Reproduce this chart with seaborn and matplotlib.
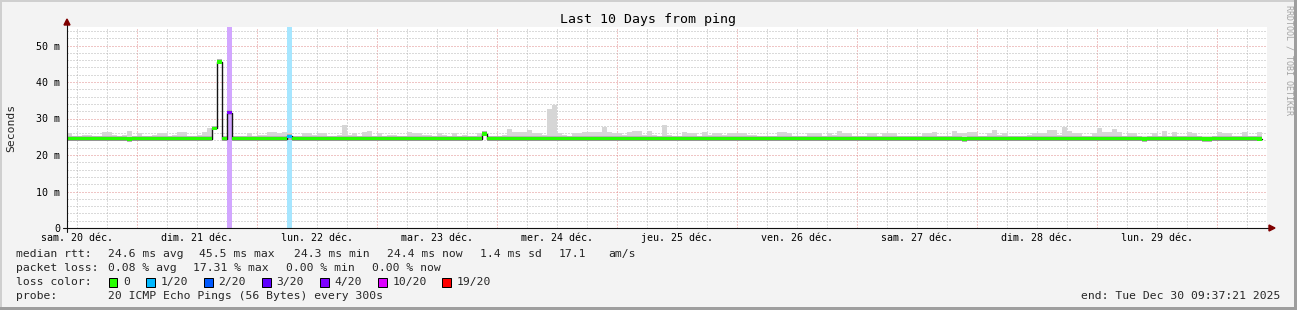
import numpy as np
import pandas as pd
import matplotlib
matplotlib.use("Agg")
import matplotlib.pyplot as plt
from matplotlib.patches import Rectangle, Polygon
from matplotlib.lines import Line2D
from matplotlib.colors import to_rgb
from matplotlib.transforms import blended_transform_factory
import seaborn as sns

# ---------------- data ----------------
title = "Last 10 Days from ping"
y_label = "Seconds"
plot_start = pd.Timestamp("2025-12-20 10:00")
plot_hours = 240
day_labels = ["sam. 20 déc.", "dim. 21 déc.", "lun. 22 déc.", "mar. 23 déc.", "mer. 24 déc.",
              "jeu. 25 déc.", "ven. 26 déc.", "sam. 27 déc.", "dim. 28 déc.", "lun. 29 déc."]
y_ticks = [0, 10, 20, 30, 40, 50]
y_tick_labels = ["0", "10 m", "20 m", "30 m", "40 m", "50 m"]

# hourly median rtt (ms)
median_ms = [
    24.5, 24.5, 24.5, 24.5, 24.5, 24.5, 24.5, 24.5, 24.5, 24.5, 24.5, 24.5, 24.3, 24.5, 24.5, 24.5, 24.5, 24.5, 24.5, 24.5,
    24.5, 24.5, 24.5, 24.5, 24.5, 24.5, 24.5, 24.5, 24.5, 27.3, 45.5, 24.5, 31.6, 24.5, 24.5, 24.5, 24.5, 24.5, 24.5, 24.5,
    24.5, 24.5, 24.5, 24.5, 25.1, 24.5, 24.5, 24.5, 24.5, 24.5, 24.5, 24.5, 24.5, 24.5, 24.5, 24.5, 24.5, 24.5, 24.5, 24.5,
    24.5, 24.5, 24.5, 24.5, 24.5, 24.5, 24.5, 24.5, 24.5, 24.5, 24.5, 24.5, 24.5, 24.5, 24.5, 24.5, 24.5, 24.5, 24.5, 24.5,
    24.5, 24.5, 24.5, 25.8, 24.5, 24.5, 24.5, 24.5, 24.5, 24.5, 24.5, 24.5, 24.5, 24.5, 24.5, 24.5, 24.5, 24.5, 24.5, 24.5,
    24.5, 24.5, 24.5, 24.5, 24.5, 24.5, 24.5, 24.5, 24.5, 24.5, 24.5, 24.5, 24.5, 24.5, 24.5, 24.5, 24.5, 24.5, 24.5, 24.5,
    24.5, 24.5, 24.5, 24.5, 24.5, 24.5, 24.5, 24.5, 24.5, 24.5, 24.5, 24.5, 24.5, 24.5, 24.5, 24.5, 24.5, 24.5, 24.5, 24.5,
    24.5, 24.5, 24.5, 24.5, 24.5, 24.5, 24.5, 24.5, 24.5, 24.5, 24.5, 24.5, 24.5, 24.5, 24.5, 24.5, 24.5, 24.5, 24.5, 24.5,
    24.5, 24.5, 24.5, 24.5, 24.5, 24.5, 24.5, 24.5, 24.5, 24.5, 24.5, 24.5, 24.5, 24.5, 24.5, 24.5, 24.5, 24.5, 24.5, 24.3,
    24.5, 24.5, 24.5, 24.5, 24.5, 24.5, 24.5, 24.5, 24.5, 24.5, 24.5, 24.5, 24.5, 24.5, 24.5, 24.5, 24.5, 24.5, 24.5, 24.5,
    24.5, 24.5, 24.5, 24.5, 24.5, 24.5, 24.5, 24.5, 24.5, 24.5, 24.5, 24.5, 24.5, 24.5, 24.5, 24.3, 24.5, 24.5, 24.5, 24.5,
    24.5, 24.5, 24.5, 24.5, 24.5, 24.5, 24.5, 24.3, 24.3, 24.5, 24.5, 24.5, 24.5, 24.5, 24.5, 24.5, 24.5, 24.5, 24.4,
]

# hourly smoke (lowest / highest ping, ms)
smoke_lo_ms = [
    23.7, 23.7, 23.7, 23.7, 23.7, 23.7, 23.7, 23.7, 23.7, 23.7, 23.7, 23.7, 23.6, 23.7, 23.7, 23.7, 23.7, 23.7, 23.7, 23.7,
    23.7, 23.7, 23.7, 23.7, 23.7, 23.7, 23.7, 23.7, 23.7, 26.9, 45.1, 23.7, 31.1, 23.7, 23.7, 23.7, 23.7, 23.7, 23.7, 23.7,
    23.7, 23.7, 23.7, 23.7, 24.1, 23.7, 23.7, 23.7, 23.7, 23.7, 23.7, 23.7, 23.7, 23.7, 23.7, 23.7, 23.7, 23.7, 23.7, 23.7,
    23.7, 23.7, 23.7, 23.7, 23.7, 23.7, 23.7, 23.7, 23.7, 23.7, 23.7, 23.7, 23.7, 23.7, 23.7, 23.7, 23.7, 23.7, 23.7, 23.7,
    23.7, 23.7, 23.7, 25.3, 23.7, 23.7, 23.7, 23.7, 23.7, 23.7, 23.7, 23.7, 23.7, 23.7, 23.7, 23.7, 23.7, 23.7, 23.7, 23.7,
    23.7, 23.7, 23.7, 23.7, 23.7, 23.7, 23.7, 23.7, 23.7, 23.7, 23.7, 23.7, 23.7, 23.7, 23.7, 23.7, 23.7, 23.7, 23.7, 23.7,
    23.7, 23.7, 23.7, 23.7, 23.7, 23.7, 23.7, 23.7, 23.7, 23.7, 23.7, 23.7, 23.7, 23.7, 23.7, 23.7, 23.7, 23.7, 23.7, 23.7,
    23.7, 23.7, 23.7, 23.7, 23.7, 23.7, 23.7, 23.7, 23.7, 23.7, 23.7, 23.7, 23.7, 23.7, 23.7, 23.7, 23.7, 23.7, 23.7, 23.7,
    23.7, 23.7, 23.7, 23.7, 23.7, 23.7, 23.7, 23.7, 23.7, 23.7, 23.7, 23.7, 23.7, 23.7, 23.7, 23.7, 23.7, 23.7, 23.7, 23.5,
    23.7, 23.7, 23.7, 23.7, 23.7, 23.7, 23.7, 23.7, 23.7, 23.7, 23.7, 23.7, 23.7, 23.7, 23.7, 23.7, 23.7, 23.7, 23.7, 23.7,
    23.7, 23.7, 23.7, 23.7, 23.7, 23.7, 23.7, 23.7, 23.7, 23.7, 23.7, 23.7, 23.7, 23.7, 23.7, 23.5, 23.7, 23.7, 23.7, 23.7,
    23.7, 23.7, 23.7, 23.7, 23.7, 23.7, 23.7, 23.5, 23.5, 23.7, 23.7, 23.7, 23.7, 23.7, 23.7, 23.7, 23.7, 23.7, 23.7,
]
smoke_hi_ms = [
    26.0, 25.3, 25.3, 25.6, 25.6, 25.3, 25.3, 26.3, 26.3, 25.6, 25.3, 25.6, 26.6, 25.3, 26.0, 25.3, 25.3, 25.6, 26.0, 26.0,
    25.3, 25.6, 26.3, 26.3, 25.3, 25.3, 25.6, 26.3, 27.4, 27.9, 46.3, 25.3, 32.4, 25.3, 25.3, 25.3, 26.0, 25.3, 25.6, 25.6,
    26.3, 26.3, 26.0, 26.3, 25.9, 25.3, 25.3, 26.0, 26.0, 25.6, 26.0, 26.0, 25.3, 25.3, 25.6, 28.3, 25.6, 26.0, 25.3, 26.3,
    26.6, 25.3, 25.9, 25.3, 25.6, 25.6, 25.3, 25.3, 26.3, 26.0, 26.0, 25.6, 25.6, 25.3, 26.0, 25.6, 25.3, 26.0, 25.3, 25.6,
    25.3, 25.3, 26.0, 26.6, 25.3, 25.3, 25.3, 25.6, 27.2, 26.3, 26.3, 26.3, 26.9, 26.0, 26.0, 25.6, 32.7, 33.8, 26.0, 25.6,
    25.3, 26.0, 26.0, 26.3, 26.3, 26.3, 26.3, 27.8, 26.3, 26.0, 26.0, 25.6, 26.3, 26.6, 26.6, 25.6, 26.6, 25.6, 25.3, 28.3,
    25.6, 25.3, 25.3, 26.3, 26.0, 26.0, 25.3, 26.2, 25.6, 26.0, 26.0, 25.6, 26.0, 26.0, 26.0, 26.0, 25.6, 25.6, 25.3, 25.3,
    25.3, 25.3, 26.3, 26.3, 26.0, 25.3, 25.3, 25.3, 26.0, 26.0, 26.0, 25.3, 26.0, 25.6, 26.6, 26.0, 26.0, 25.3, 25.3, 25.3,
    26.0, 26.0, 25.3, 26.0, 26.0, 26.0, 25.3, 25.3, 25.3, 25.3, 25.3, 26.0, 26.0, 26.3, 25.3, 25.3, 25.3, 26.6, 26.0, 26.0,
    26.3, 26.3, 25.3, 25.3, 26.0, 26.9, 25.6, 26.0, 25.3, 25.3, 25.3, 25.3, 25.6, 26.0, 26.0, 26.0, 26.9, 26.9, 25.6, 27.7,
    26.6, 26.0, 26.0, 25.3, 25.3, 26.0, 27.5, 26.3, 26.3, 27.2, 26.3, 25.3, 26.0, 26.0, 25.3, 25.3, 25.3, 26.0, 25.3, 26.6,
    25.3, 26.3, 25.3, 25.3, 26.3, 26.0, 25.3, 25.3, 25.3, 25.3, 26.2, 26.0, 26.0, 25.3, 25.3, 26.2, 25.3, 25.3, 26.2,
]

# hours (from plot start) with packet loss and number of lost pings out of 20
loss_hour_idx = [32, 44]
loss_pings = [4, 1]

loss_keys = [0, 1, 2, 3, 4, 10, 19]
loss_names = ["0", "1/20", "2/20", "3/20", "4/20", "10/20", "19/20"]
loss_colors = ["#26ff00", "#00b8ff", "#0059ff", "#5e00ff", "#7e00ff", "#dd00ff", "#ff0000"]

stats_rtt = ["median rtt:", "24.6 ms avg", "45.5 ms max", "24.3 ms min", "24.4 ms now", "1.4 ms sd", "17.1", "am/s"]
stats_loss = ["packet loss:", "0.08 % avg", "17.31 % max", "0.00 % min", "0.00 % now"]
probe_text = ["probe:", "20 ICMP Echo Pings (56 Bytes) every 300s"]
loss_row_label = "loss color:"
end_text = "end: Tue Dec 30 09:37:21 2025"
credit = "RRDTOOL / TOBI OETIKER"

assert len(median_ms) == len(smoke_lo_ms) == len(smoke_hi_ms)

# ---------------- figure ----------------
W, H, DPI = 1297, 310, 100
sns.set_theme(style="white")
plt.rcParams["font.family"] = ["DejaVu Sans Mono", "DejaVu Sans"]
plt.rcParams["axes.unicode_minus"] = False

fig = plt.figure(figsize=(W / DPI, H / DPI), dpi=DPI, facecolor="#f3f3f3")


def fx(px):
    return px / W


def fy(py):
    return (H - py) / H


PX = 0.72  # one pixel in points
L, R, B = 67, 1267, 228
YMAX = 55
T = B - YMAX * 3.65
ax = fig.add_axes([fx(L), fy(B), (R - L) / W, (B - T) / H])
ax.set_facecolor("white")
for s in ax.spines.values():
    s.set_visible(False)

n = len(median_ms)
edges = np.arange(n + 1)
med = np.array(median_ms)
lo = np.array(smoke_lo_ms)
hi = np.array(smoke_hi_ms)


def ext(a):
    return np.append(a, a[-1])


def color_for(l):
    prev = -1
    for k, c in zip(loss_keys, loss_colors):
        if prev < l <= k:
            return c
        prev = k
    return loss_colors[-1]


loss = np.zeros(n)
loss[loss_hour_idx] = loss_pings
bin_colors = [color_for(v) for v in loss]

# loss background bands
for h, p in zip(loss_hour_idx, loss_pings):
    c = np.array(to_rgb(color_for(p)))
    blend = 1 - 0.35 * (1 - c)
    ax.axvspan(h, h + 1, color=blend, lw=0, zorder=1.5)

# smoke
ax.fill_between(edges, ext(lo), ext(hi), step="post", color="#d6d6d6", lw=0, zorder=2)
ax.fill_between(edges, ext(lo), ext(np.minimum(med + 0.7, hi)), step="post",
                color="#b4b4b4", lw=0, zorder=2.1)

# median line (dark) + loss coloured band
sns.lineplot(x=edges, y=ext(med), drawstyle="steps-post", color="#151515", lw=1.0,
             estimator=None, ax=ax, zorder=3, legend=False)
ax.bar(edges[:-1], 1.0, bottom=med - 0.5, width=1, align="edge", color=bin_colors,
       lw=0, zorder=4, antialiased=False)

ax.set_xlim(0, plot_hours)
ax.set_ylim(0, YMAX)

# x ticks / grid
hr = pd.Timedelta(hours=1)
day_starts = pd.date_range("2025-12-21", periods=10, freq="D")
major_x = [(d - plot_start) / hr for d in day_starts]
six_h = pd.date_range("2025-12-20 12:00", "2025-12-30 06:00", freq="6h")
minor_x = [(t - plot_start) / hr for t in six_h if t.hour != 0]
noon_x = [(t - plot_start) / hr for t in six_h if t.hour == 12]
ax.set_xticks(major_x)
ax.set_xticklabels([""] * len(major_x))
ax.set_xticks(minor_x, minor=True)
ax.set_xticklabels([""] * len(minor_x), minor=True)

ax.set_yticks(y_ticks)
ax.set_yticklabels(y_tick_labels)
ax.set_yticks([v for v in range(2, YMAX, 2) if v % 10 != 0], minor=True)

RED = "#e08c8c"
GRAY = "#b6b6b6"
dot = (0, (1, 2))
ax.grid(True, which="major", color=RED, linestyle=dot, lw=PX, zorder=1)
ax.grid(True, which="minor", color=GRAY, linestyle=dot, lw=PX, zorder=1)
ax.set_axisbelow(True)

ax.tick_params(axis="both", which="major", length=3 * PX, width=PX, color="#d06060", direction="out")
ax.tick_params(axis="both", which="minor", length=3 * PX, width=PX, color="#b0b0b0", direction="out")
ax.tick_params(axis="y", which="major", labelsize=7.2, pad=2.6, labelcolor="black")
ax.tick_params(axis="y", which="minor", length=0)

# day labels centred at noon, aligned on a common baseline
xt = blended_transform_factory(ax.transData, fig.transFigure)
for xv, lab in zip(noon_x, day_labels):
    ax.text(xv, fy(241), lab, transform=xt, ha="center", va="baseline", fontsize=7.2,
            color="black", clip_on=False)

# axis lines with arrows
AX_C = "#111111"
ARR_C = "#7f0000"
fig.add_artist(Line2D([fx(63), fx(1270)], [fy(B), fy(B)], color=AX_C, lw=PX * 1.1,
                      transform=fig.transFigure, zorder=10))
fig.add_artist(Line2D([fx(L), fx(L)], [fy(B + 4), fy(24)], color=AX_C, lw=PX * 1.1,
                      transform=fig.transFigure, zorder=10))
fig.add_artist(Polygon([[fx(1269), fy(B - 3)], [fx(1275), fy(B)], [fx(1269), fy(B + 3)]],
                       closed=True, color=ARR_C, transform=fig.transFigure, zorder=11))
fig.add_artist(Polygon([[fx(L - 3), fy(25)], [fx(L), fy(19)], [fx(L + 3), fy(25)]],
                       closed=True, color=ARR_C, transform=fig.transFigure, zorder=11))

# titles
fig.text(fx(648.5), fy(19), title, ha="center", va="center", fontsize=9.5, color="black")
fig.text(fx(11), fy(128), y_label, ha="center", va="center", rotation=90, fontsize=8.2)
fig.text(fx(1288.5), fy(5), credit, ha="center", va="top", rotation=270, fontsize=6,
         color="#a4a4a4")

# legend block
FS = 8.2
rtt_x = [15.6, 107.6, 199, 294, 387, 479.5, 559, 608]
for s, x in zip(stats_rtt, rtt_x):
    fig.text(fx(x), fy(254.3), s, ha="left", va="center", fontsize=FS)
loss_x = [15.6, 107.6, 193, 285.7, 371.9]
for s, x in zip(stats_loss, loss_x):
    fig.text(fx(x), fy(268.3), s, ha="left", va="center", fontsize=FS)
fig.text(fx(15.6), fy(282.3), loss_row_label, ha="left", va="center", fontsize=FS)
sw_x = [108.5, 146, 204, 262, 320, 378, 442]
for name, c, x in zip(loss_names, loss_colors, sw_x):
    fig.add_artist(Rectangle((fx(x), fy(282.3 + 4.3)), 8.6 / W, 8.6 / H, facecolor=c,
                             edgecolor="black", lw=PX, transform=fig.transFigure))
    fig.text(fx(x + 14.5), fy(282.3), name, ha="left", va="center", fontsize=FS)
fig.text(fx(15.6), fy(296.3), probe_text[0], ha="left", va="center", fontsize=FS)
fig.text(fx(107.6), fy(296.3), probe_text[1], ha="left", va="center", fontsize=FS)
fig.text(fx(1280), fy(296.3), end_text, ha="right", va="center", fontsize=FS)

# frame shading
fig.add_artist(Rectangle((0, fy(2)), 1, 2 / H, color="#cfcfcf", lw=0, transform=fig.transFigure))
fig.add_artist(Rectangle((0, 0), 2 / W, 1, color="#cfcfcf", lw=0, transform=fig.transFigure))
fig.add_artist(Rectangle((0, 0), 1, 3 / H, color="#9e9e9e", lw=0, transform=fig.transFigure))
fig.add_artist(Rectangle((fx(W - 3), 0), 3 / W, 1, color="#9e9e9e", lw=0, transform=fig.transFigure))

fig.savefig("out.png", dpi=DPI, facecolor=fig.get_facecolor())
